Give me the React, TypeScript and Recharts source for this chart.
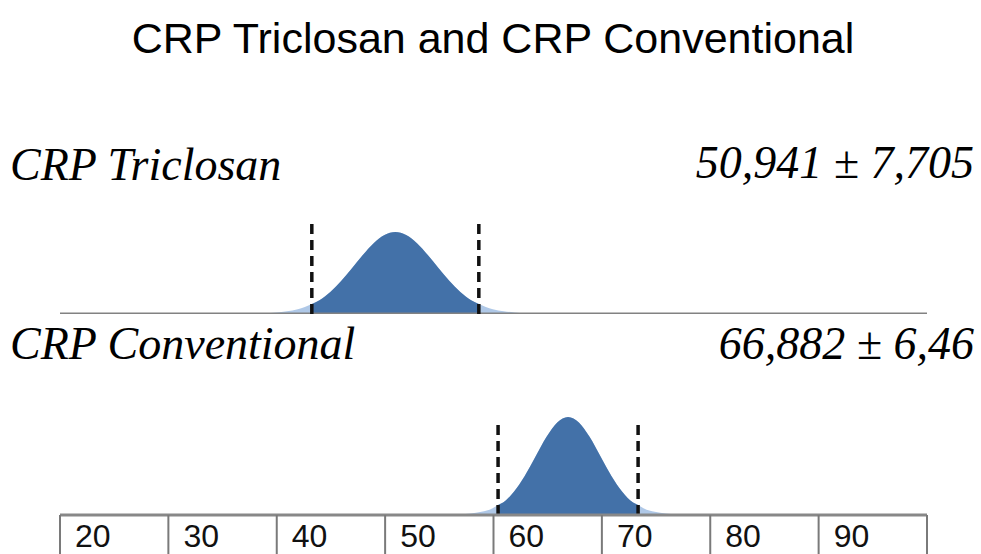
import React from 'react'
import { ComposedChart, Area, XAxis, YAxis, ReferenceLine } from 'recharts'

const chartTitle = 'CRP Triclosan and CRP Conventional'
const groupNames = ['CRP Triclosan', 'CRP Conventional']
const means = [50.941, 66.882]
const sds = [7.705, 6.46]
const meanLabels = ['50,941', '66,882']
const sdLabels = ['7,705', '6,46']

// curve heights (arbitrary height units)
const triclosanX = [
  38.94, 39.94, 40.94, 41.94, 43.24, 43.94, 44.94, 45.94, 46.94, 47.94, 48.94, 49.94, 50.94,
  51.94, 52.94, 53.94, 54.94, 55.94, 56.94, 57.94, 58.65, 59.94, 60.94, 61.94, 62.94,
]
const triclosanHeight = [
  0.6, 1.5, 2.8, 4.8, 10.0, 13.7, 22.0, 32.9, 45.7, 59.0, 70.8, 79.1, 82,
  79.1, 70.8, 59.0, 45.7, 32.9, 22.0, 13.7, 10.0, 4.8, 2.8, 1.5, 0.6,
]
const conventionalX = [
  56.88, 57.88, 58.88, 59.88, 60.42, 60.88, 61.88, 62.88, 63.88, 64.88, 65.88, 66.88,
  67.88, 68.88, 69.88, 70.88, 71.88, 72.88, 73.34, 73.88, 74.88, 75.88, 76.88,
]
const conventionalHeight = [
  0.6, 1.6, 3.2, 6.5, 10.0, 12.4, 23.3, 39.1, 58.4, 77.9, 92.5, 98,
  92.5, 77.9, 58.4, 39.1, 23.3, 12.4, 10.0, 6.5, 3.2, 1.6, 0.6,
]

const axisTicks = [20, 30, 40, 50, 60, 70, 80, 90, 100]
const tickLabels = ['20', '30', '40', '50', '60', '70', '80', '90']

const DARK = '#4371a8'
const LIGHT = '#afc8e7'

function buildRows(xs: number[], ys: number[], mean: number, sd: number) {
  return xs.map((x, i) => ({
    x,
    tail: ys[i],
    core: x >= mean - sd - 0.01 && x <= mean + sd + 0.01 ? ys[i] : null,
  }))
}

const BoxTick = (props: any) => {
  const { x, y, payload } = props
  const label = tickLabels[axisTicks.indexOf(payload.value)]
  return (
    <g>
      <line x1={x} y1={y} x2={x} y2={y + 45} stroke="#7a7a7a" strokeWidth={2} />
      {label && (
        <text x={x + 15} y={y + 32} fontSize={32} fontFamily="'Liberation Sans', Arial" fill="#111">
          {label}
        </text>
      )}
    </g>
  )
}

function Curve(props: {
  rows: any[]
  mean: number
  sd: number
  top: number
  plotHeight: number
  dashTop: number
  withAxis: boolean
}) {
  const { rows, mean, sd, top, plotHeight, dashTop, withAxis } = props
  const axisH = withAxis ? 39 : 0
  return (
    <div style={{ position: 'absolute', left: 0, top }}>
      <ComposedChart
        width={981}
        height={plotHeight + axisH}
        data={rows}
        margin={{ top: 0, right: 54, bottom: 0, left: 60 }}
      >
        <XAxis
          dataKey="x"
          type="number"
          domain={[20, 100]}
          ticks={axisTicks}
          interval={0}
          hide={!withAxis}
          height={axisH}
          tickSize={0}
          tickMargin={0}
          tickLine={false}
          tick={<BoxTick />}
          axisLine={{ stroke: '#888', strokeWidth: 3 }}
          allowDataOverflow
        />
        <YAxis hide domain={[0, plotHeight]} allowDataOverflow />
        <Area
          type="monotone"
          dataKey="tail"
          fill={LIGHT}
          fillOpacity={1}
          stroke="none"
          isAnimationActive={false}
        />
        <Area
          type="monotone"
          dataKey="core"
          fill={DARK}
          fillOpacity={1}
          stroke="none"
          isAnimationActive={false}
        />
        {!withAxis && <ReferenceLine y={0} stroke="#828282" strokeWidth={3} />}
        <ReferenceLine
          segment={[{ x: mean - sd, y: 0 }, { x: mean - sd, y: dashTop }]}
          stroke="#111"
          strokeWidth={3.5}
          strokeDasharray="10 6"
        />
        <ReferenceLine
          segment={[{ x: mean + sd, y: 0 }, { x: mean + sd, y: dashTop }]}
          stroke="#111"
          strokeWidth={3.5}
          strokeDasharray="10 6"
        />
      </ComposedChart>
    </div>
  )
}

export default function App() {
  const rowsA = buildRows(triclosanX, triclosanHeight, means[0], sds[0])
  const rowsB = buildRows(conventionalX, conventionalHeight, means[1], sds[1])
  const serif = "'Liberation Serif', 'Times New Roman', serif"
  return (
    <div
      style={{
        position: 'absolute',
        left: 0,
        top: 0,
        width: 981,
        height: 554,
        overflow: 'hidden',
        background: '#fff',
      }}
    >
      <Curve rows={rowsA} mean={means[0]} sd={sds[0]} top={200} plotHeight={114} dashTop={91} withAxis={false} />
      <Curve rows={rowsB} mean={means[1]} sd={sds[1]} top={400} plotHeight={115} dashTop={92} withAxis={true} />
      <svg width={981} height={554} style={{ position: 'absolute', left: 0, top: 0, pointerEvents: 'none' }}>
        <text x={493} y={53} textAnchor="middle" fontSize={43} fontFamily="'Liberation Sans', Arial" fill="#000">
          {chartTitle}
        </text>
        <text x={10} y={180} fontSize={46} fontStyle="italic" fontFamily={serif} fill="#000">
          {groupNames[0]}
        </text>
        <text x={974} y={178} textAnchor="end" fontSize={46} fontStyle="italic" fontFamily={serif} fill="#000">
          {meanLabels[0] + ' \u00b1 ' + sdLabels[0]}
        </text>
        <text x={10} y={359} fontSize={46} fontStyle="italic" fontFamily={serif} fill="#000">
          {groupNames[1]}
        </text>
        <text x={974} y={359} textAnchor="end" fontSize={46} fontStyle="italic" fontFamily={serif} fill="#000">
          {meanLabels[1] + ' \u00b1 ' + sdLabels[1]}
        </text>
      </svg>
    </div>
  )
}
